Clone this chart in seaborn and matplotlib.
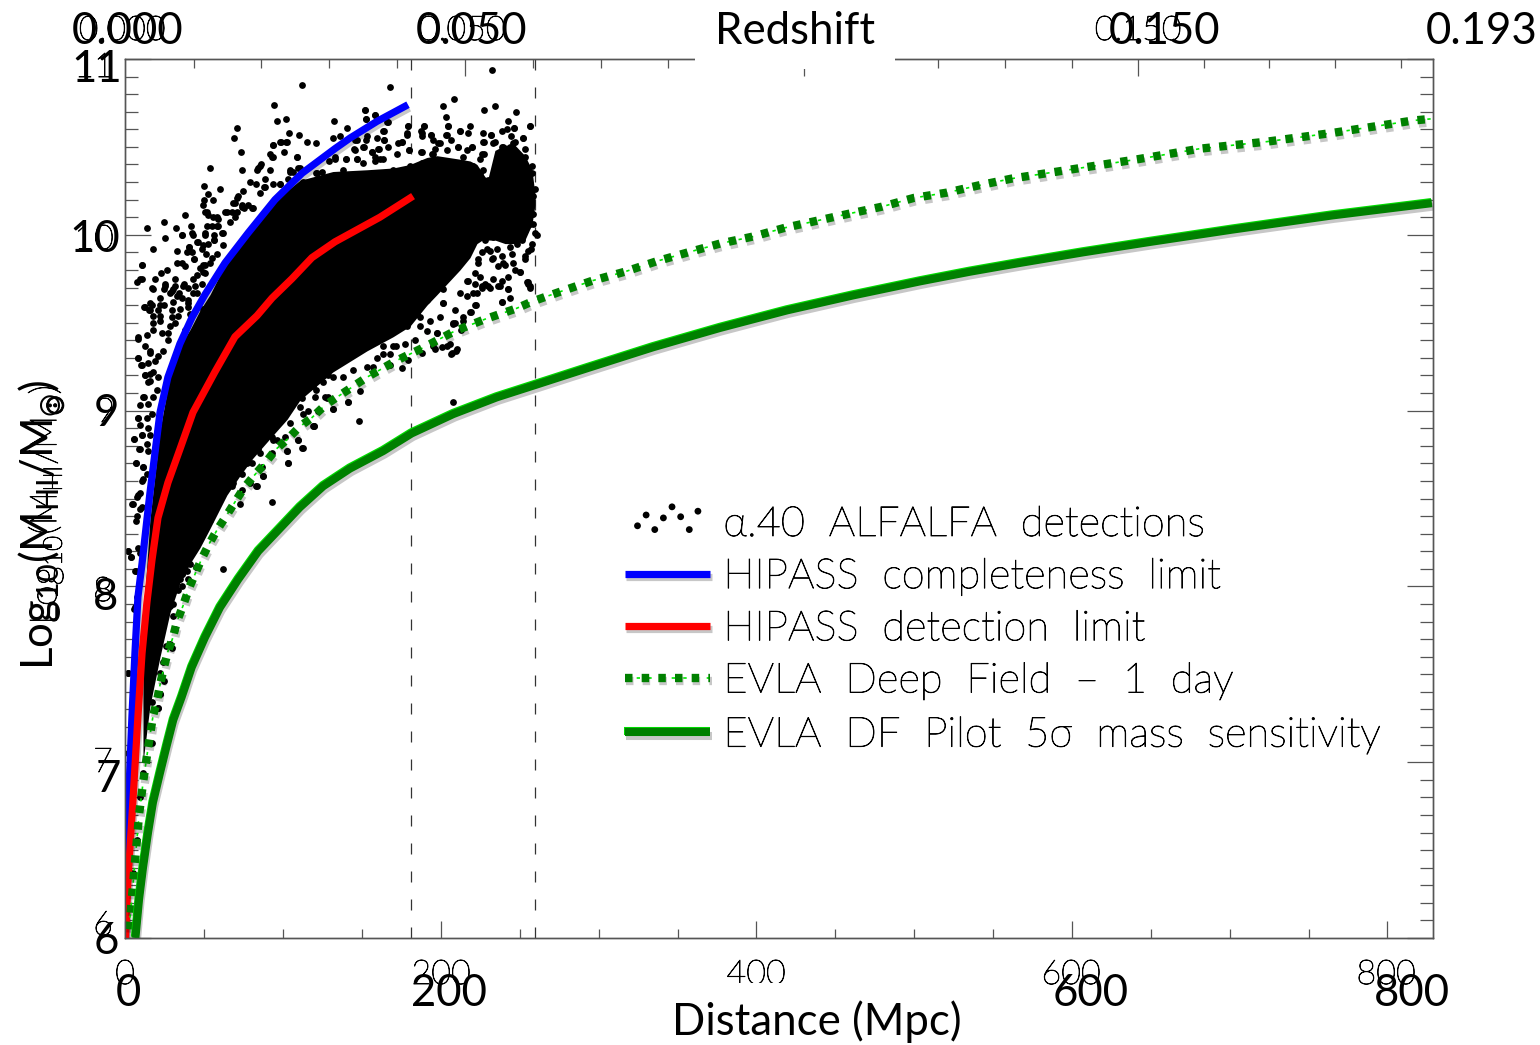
import matplotlib
matplotlib.use('Agg')
import matplotlib.pyplot as plt
import matplotlib.patheffects as pe
from matplotlib.legend_handler import HandlerTuple
from matplotlib.patches import Rectangle
import seaborn as sns
import pandas as pd

# Curvas de sensibilidade (Distancia em Mpc, log10 da massa)
blue_dist = [0.0, 0.3, 1.6, 4.1, 6.0, 7.9, 10.5, 13.6, 15.5, 18.7, 21.9, 26.9, 34.5, 42.2, 50.4, 63.1, 77.7, 94.8, 111.9, 132.8, 142.3, 159.4, 179.1]
blue_mass = [6.0, 6.33, 6.71, 7.26, 7.62, 7.94, 8.13, 8.38, 8.53, 8.76, 8.99, 9.19, 9.38, 9.53, 9.66, 9.84, 10.01, 10.20, 10.35, 10.49, 10.55, 10.645, 10.74]

red_dist = [0.0, 1.6, 4.8, 7.9, 10.5, 13.6, 16.8, 20.6, 26.9, 34.5, 42.8, 56.7, 69.4, 83.4, 92.9, 105.5, 118.2, 132.8, 161.3, 182.3]
red_mass = [6.0, 6.33, 6.79, 7.26, 7.62, 7.91, 8.15, 8.39, 8.59, 8.78, 8.99, 9.22, 9.42, 9.54, 9.64, 9.75, 9.87, 9.96, 10.10, 10.22]

deep_dist = [2.2, 4.1, 6.0, 8.6, 11.1, 14.3, 17.4, 20.0, 21.9, 24.4, 26.9, 30.1, 32.6, 36.5, 40.3, 44.1, 48.5, 52.9, 58.0, 63.1, 69.4, 75.1, 81.5, 88.4, 95.4, 103.0, 110.6, 118.2, 126.5, 134.7, 153.1, 170.8, 189.2, 208.2, 227.9, 247.5, 257.7, 276.7, 296.4, 316.6, 336.9, 356.6, 376.9, 397.8, 418.1, 438.4, 458.7, 479.6, 499.9, 520.8, 540.4, 562.0, 641.8, 681.2, 723.7, 765.5, 816.2, 828.2]
deep_mass = [6.05, 6.23, 6.43, 6.70, 6.88, 7.08, 7.26, 7.35, 7.44, 7.54, 7.63, 7.71, 7.80, 7.89, 7.99, 8.07, 8.16, 8.24, 8.32, 8.39, 8.48, 8.56, 8.63, 8.70, 8.78, 8.84, 8.91, 8.96, 9.03, 9.08, 9.19, 9.28, 9.36, 9.45, 9.52, 9.58, 9.62, 9.68, 9.74, 9.79, 9.85, 9.90, 9.95, 9.99, 10.04, 10.08, 10.12, 10.16, 10.21, 10.24, 10.28, 10.32, 10.43, 10.49, 10.53, 10.58, 10.65, 10.66]

pilot_dist = [6.3, 8.6, 11.1, 14.3, 17.4, 21.9, 26.3, 30.3, 35.6, 42.0, 50.4, 59.9, 71.5, 84.2, 99.0, 110.6, 125.4, 142.3, 163.4, 181.4, 207.8, 235.3, 259.6, 292.4, 334.4, 376.9, 419.4, 461.2, 503.7, 535.4, 567.1, 607.0, 650.0, 702.1, 765.0, 828.2]
pilot_mass = [6.0, 6.22, 6.40, 6.60, 6.77, 6.94, 7.10, 7.24, 7.37, 7.54, 7.71, 7.88, 8.04, 8.20, 8.34, 8.45, 8.57, 8.67, 8.77, 8.87, 8.98, 9.075, 9.145, 9.24, 9.36, 9.47, 9.57, 9.655, 9.735, 9.79, 9.84, 9.90, 9.96, 10.03, 10.11, 10.18]

# Miolo saturado da nuvem de deteccoes, onde nao da para ler pontos individuais
core_dist = [11.1, 15.5, 21.9, 28.2, 34.5, 40.9, 47.2, 53.6, 64.3, 72.6, 80.8, 93.5, 102.4, 110.6, 131.5, 153.1, 169.6, 180.3, 191.1, 197.5, 212.0, 218.4, 222.8, 227.9, 229.8, 234.2, 240.6, 246.9, 253.2, 257.7, 259.6]
core_low = [7.0, 7.32, 7.60, 7.85, 8.02, 8.13, 8.22, 8.33, 8.52, 8.63, 8.73, 8.86, 8.95, 9.06, 9.22, 9.34, 9.42, 9.48, 9.60, 9.66, 9.80, 9.87, 9.95, 9.98, 9.97, 9.97, 9.95, 9.95, 9.97, 10.06, 10.17]
core_high = [7.81, 8.38, 8.89, 9.20, 9.37, 9.46, 9.57, 9.66, 9.85, 9.97, 10.06, 10.17, 10.25, 10.31, 10.36, 10.37, 10.38, 10.40, 10.44, 10.45, 10.43, 10.42, 10.40, 10.33, 10.32, 10.48, 10.51, 10.51, 10.45, 10.37, 10.23]

# Deteccoes individuais
alfalfa = [
    (111.7, 10.85), (167.9, 10.84), (232.1, 10.94), (93.9, 10.74), (208.3, 10.77), (201.1, 10.73), (227.5, 10.71), (234.5, 10.73),
    (247.6, 10.70), (152.0, 10.71), (70.7, 10.61), (68.6, 10.55), (96.3, 10.65), (101.8, 10.66), (132.2, 10.65), (140.6, 10.61),
    (152.3, 10.66), (158.4, 10.68), (165.8, 10.64), (178.9, 10.62), (189.5, 10.62), (202.9, 10.67), (204.7, 10.62), (218.4, 10.62),
    (212.1, 10.59), (217.4, 10.58), (242.7, 10.65), (246.3, 10.61), (238.5, 10.59), (256.2, 10.62), (226.8, 10.58), (231.7, 10.57),
    (103.9, 10.58), (110.2, 10.57), (98.4, 10.53), (102.2, 10.53), (93.7, 10.51), (115.1, 10.53), (120.6, 10.52), (131.8, 10.55),
    (136.0, 10.56), (163.7, 10.59), (152.5, 10.54), (145.5, 10.54), (163.7, 10.54), (178.3, 10.57), (187.7, 10.58), (193.7, 10.57),
    (203.6, 10.57), (73.4, 10.47), (91.6, 10.46), (100.5, 10.47), (108.5, 10.44), (151.0, 10.50), (160.9, 10.49), (166.6, 10.50),
    (175.1, 10.53), (179.9, 10.48), (171.9, 10.46), (187.8, 10.47), (226.8, 10.53), (211.0, 10.50), (219.5, 10.50), (227.5, 10.46),
    (251.8, 10.55), (199.4, 10.52), (92.7, 10.44), (129.2, 10.42), (132.8, 10.43), (139.8, 10.43), (145.3, 10.48), (156.1, 10.47),
    (158.2, 10.42), (146.6, 10.43), (53.4, 10.38), (85.3, 10.39), (83.2, 10.37), (74.1, 10.37), (91.6, 10.37), (104.3, 10.36),
    (110.6, 10.38), (120.8, 10.35), (78.9, 10.30), (50.0, 10.28), (59.9, 10.26), (74.7, 10.25), (52.1, 10.23), (50.0, 10.20),
    (55.3, 10.20), (70.5, 10.21), (68.4, 10.18), (88.5, 10.27), (98.0, 10.29), (112.7, 10.30), (121.2, 10.29), (85.3, 10.24),
    (80.0, 10.15), (73.7, 10.16), (49.4, 10.17), (37.7, 10.11), (24.4, 10.07), (13.6, 10.04), (31.8, 10.04), (41.7, 10.05),
    (51.5, 10.13), (57.8, 10.10), (64.2, 10.13), (69.4, 10.10), (66.3, 10.07), (51.5, 10.05), (57.8, 10.05), (42.0, 10.01),
    (35.8, 10.00), (25.3, 9.98), (62.0, 10.01), (50.4, 10.00), (45.1, 9.96), (56.1, 9.97), (17.7, 9.92), (32.7, 9.91),
    (40.1, 9.93), (48.3, 9.92), (10.3, 9.83), (26.1, 9.80), (43.4, 9.86), (32.5, 9.84), (37.7, 9.82), (50.4, 9.83),
    (9.2, 9.75), (7.5, 9.73), (18.7, 9.75), (22.5, 9.78), (31.4, 9.75), (43.0, 9.75), (49.4, 9.79), (36.7, 9.71),
    (17.7, 9.69), (25.1, 9.71), (30.3, 9.69), (34.1, 9.67), (43.0, 9.67), (16.6, 9.60), (12.4, 9.59), (21.9, 9.60),
    (30.3, 9.62), (39.9, 9.61), (49.4, 9.58), (15.6, 9.57), (21.9, 9.51), (31.4, 9.50), (17.7, 9.46), (8.2, 9.42),
    (27.2, 9.44), (37.7, 9.46), (260.9, 10.00), (256.9, 9.92), (255.4, 9.72), (256.4, 9.70), (250.0, 9.79), (242.7, 9.69),
    (243.8, 9.64), (238.5, 9.62), (231.1, 9.70), (225.8, 9.70), (233.2, 9.75), (239.5, 9.84), (245.9, 9.84), (233.2, 9.87),
    (253.3, 9.88), (229.0, 9.92), (222.6, 9.67), (221.6, 9.60), (218.4, 9.56), (214.2, 9.51), (208.9, 9.50), (212.0, 9.67),
    (201.5, 9.61), (197.3, 9.44), (207.8, 9.05), (147.8, 8.94), (92.8, 8.48), (61.8, 8.10), (175.0, 9.24), (141.2, 9.05),
    (119.0, 8.91), (112.0, 8.79), (103.2, 8.70), (102.1, 8.77), (87.3, 8.63), (82.7, 8.57), (206.7, 9.33), (209.9, 9.35),
    (203.6, 9.37), (171.8, 9.37), (167.6, 9.32), (131.7, 9.01), (128.5, 9.08), (109.5, 8.83), (95.8, 8.83), (72.5, 8.47),
    (66.2, 8.44), (53.5, 8.38), (45.0, 8.11), (35.6, 8.07), (30.3, 7.83), (26.0, 7.66), (21.8, 7.51), (38.7, 8.09),
    (8.1, 9.30), (10.2, 9.26), (15.5, 9.33), (12.3, 9.20), (11.3, 9.08), (8.1, 8.96), (10.2, 8.86), (5.6, 8.84),
    (8.7, 8.78), (6.6, 8.70), (11.3, 8.68), (10.8, 8.61), (8.1, 8.52), (4.5, 8.47), (9.1, 8.44), (6.6, 8.37),
    (1.5, 8.20), (3.2, 8.17), (6.0, 8.09), (6.0, 7.88), (1.3, 7.51), (15.5, 9.21), (14.4, 9.16), (22.0, 7.39),
    (20.9, 7.31), (16.6, 7.11), (11.3, 6.94), (9.1, 6.80), (7.1, 6.56), (5.0, 6.37), (1.8, 7.05), (233.2, 10.52),
    (239.5, 10.50), (245.9, 10.52), (253.3, 10.44), (257.5, 10.35), (258.5, 10.22), (257.5, 10.12), (254.3, 10.05), (251.1, 9.97),
    (258.5, 10.06), (243.8, 9.93), (235.3, 9.92), (226.9, 10.29), (224.7, 10.35), (230.0, 10.22), (224.7, 10.12), (226.8, 10.01),
    (138.1, 10.37), (150.8, 10.41), (161.3, 10.43), (169.8, 10.37), (180.4, 10.39), (187.8, 10.41), (195.2, 10.46), (203.6, 10.48),
    (214.2, 10.44), (220.5, 10.39), (191.0, 9.63), (201.5, 9.69), (216.3, 9.74), (223.7, 9.86), (186.7, 9.53), (178.3, 9.50),
    (131.7, 9.19), (121.1, 9.12), (110.6, 9.02), (104.2, 8.93), (93.7, 8.83), (85.2, 8.76), (76.8, 8.70), (68.3, 8.59),
    (59.9, 8.51), (51.4, 8.40), (45.0, 8.28), (40.8, 8.19), (34.5, 8.04), (28.2, 7.89),
    # franja esquerda, mais densa
    (82.5, 10.29), (84.2, 10.38), (85.9, 10.40), (88.4, 10.32), (88.0, 10.27), (93.7, 10.29), (98.0, 10.29), (103.2, 10.32),
    (104.3, 10.37), (106.4, 10.36), (93.7, 10.51), (98.2, 10.53), (102.0, 10.53), (108.7, 10.44), (93.3, 10.44), (71.1, 10.22),
    (69.4, 10.18), (74.1, 10.17), (77.9, 10.17), (80.6, 10.15), (75.3, 10.15), (50.4, 10.13), (52.5, 10.11), (55.7, 10.10),
    (58.4, 10.09), (63.1, 10.13), (67.3, 10.13), (70.5, 10.13), (55.0, 10.05), (58.9, 10.05), (36.0, 10.00), (42.8, 10.00),
    (50.6, 10.01), (56.3, 10.00), (61.0, 10.01), (40.3, 9.93), (39.2, 9.90), (42.0, 9.90), (46.2, 9.96), (49.4, 9.94),
    (52.5, 9.95), (56.3, 9.97), (62.0, 9.94), (51.0, 9.89), (10.7, 9.83), (35.6, 9.84), (43.7, 9.86), (49.4, 9.83),
    (47.2, 9.81), (54.6, 9.87), (57.8, 9.89), (53.6, 9.84), (10.3, 9.75), (45.1, 9.77), (50.4, 9.78), (25.1, 9.72),
    (24.4, 9.69), (17.0, 9.70), (31.4, 9.71), (37.3, 9.72), (39.8, 9.70), (44.1, 9.71), (29.3, 9.68), (32.5, 9.65),
    (28.2, 9.67), (35.6, 9.64), (48.3, 9.72), (22.1, 9.64), (24.6, 9.60), (39.8, 9.63), (45.1, 9.67), (15.5, 9.61),
    (11.7, 9.59), (14.9, 9.57), (20.8, 9.57), (29.3, 9.57), (34.6, 9.58), (39.8, 9.59), (40.9, 9.55), (33.5, 9.54),
    (21.9, 9.54), (17.7, 9.54), (29.3, 9.53), (109.6, 10.38), (121.2, 10.35), (124.4, 10.36), (128.6, 10.32), (122.3, 10.29),
    (114.9, 10.25), (126.5, 10.27), (130.7, 10.29), (8.2, 9.41), (12.4, 9.37), (15.5, 9.34), (20.8, 9.31), (24.0, 9.34),
    (27.2, 9.40), (23.0, 9.44), (28.2, 9.48), (17.7, 9.50), (13.4, 9.43), (8.2, 9.30), (9.8, 9.26), (14.5, 9.27),
    (18.7, 9.28), (12.4, 9.20), (15.5, 9.17), (20.8, 9.19), (17.7, 9.22), (12.0, 9.08), (9.2, 9.03), (14.5, 9.04),
    (17.7, 9.08), (19.8, 9.12), (8.2, 8.96), (9.2, 8.92), (13.4, 8.96), (14.5, 8.90), (16.6, 8.98), (5.4, 8.84),
    (10.3, 8.86), (13.4, 8.81), (15.5, 8.86), (9.2, 8.78), (14.5, 8.77), (6.7, 8.70), (11.3, 8.68), (10.3, 8.60),
    (13.4, 8.64), (9.2, 8.53), (7.1, 8.51), (4.4, 8.47), (10.3, 8.45), (7.1, 8.40),
    # franja de baixo, junto da linha pontilhada
    (119.7, 8.91), (112.3, 8.79), (102.8, 8.70), (102.6, 8.77), (87.4, 8.63), (83.2, 8.57), (78.9, 8.59), (73.7, 8.55),
    (67.3, 8.57), (62.0, 8.59), (86.3, 8.68), (92.7, 8.76), (84.2, 8.78), (109.6, 8.83), (101.1, 8.85), (92.7, 8.85),
    (115.9, 9.00), (111.7, 9.07), (120.1, 9.08), (128.6, 9.20), (127.5, 9.07), (83.2, 8.93), (80.0, 8.70), (73.7, 8.64),
    (119.5, 8.91), (131.7, 9.01), (141.2, 9.05), (148.6, 9.11), (112.7, 8.98), (122.2, 9.00), (126.4, 9.08), (179.3, 9.29),
    (167.6, 9.26), (188.1, 9.33), (206.3, 9.32), (209.5, 9.34), (205.7, 9.38), (200.4, 9.36), (195.1, 9.37), (196.2, 9.35),
    (163.4, 9.32), (159.2, 9.30), (157.1, 9.25), (163.4, 9.37), (169.8, 9.37), (177.2, 9.38), (183.5, 9.40), (190.9, 9.45),
    (197.2, 9.44), (212.7, 9.46), (207.8, 9.49), (218.8, 9.56), (222.0, 9.60), (238.4, 9.62), (242.7, 9.69), (256.4, 9.71),
    (254.3, 9.73), (237.4, 9.71), (230.0, 9.71), (225.8, 9.71), (220.5, 9.67), (214.1, 9.53), (208.9, 9.57), (201.5, 9.61),
    (216.3, 9.65), (207.8, 9.50), (199.3, 9.53), (193.0, 9.51), (186.7, 9.48), (178.2, 9.48), (172.9, 9.51), (184.6, 9.55),
    (174.0, 9.55), (138.0, 9.19), (125.4, 9.16), (119.0, 9.14), (144.4, 9.23), (152.9, 9.25),
    # topo da nuvem e bolha da direita
    (151.8, 10.71), (152.2, 10.66), (158.2, 10.68), (166.2, 10.64), (163.4, 10.59), (152.9, 10.56), (146.5, 10.54), (159.2, 10.55),
    (164.1, 10.54), (145.1, 10.49), (150.8, 10.50), (156.0, 10.47), (160.3, 10.49), (139.8, 10.43), (146.5, 10.43), (132.8, 10.44),
    (158.2, 10.44), (163.4, 10.43), (172.9, 10.52), (175.1, 10.53), (179.7, 10.48), (178.9, 10.62), (178.2, 10.58), (187.3, 10.59),
    (188.2, 10.56), (189.4, 10.62), (187.3, 10.47), (193.4, 10.57), (195.1, 10.54), (198.3, 10.52), (203.2, 10.57), (204.6, 10.62),
    (206.3, 10.54), (212.0, 10.59), (211.0, 10.50), (196.2, 10.49), (194.1, 10.46), (219.4, 10.50), (216.3, 10.48), (231.5, 10.57),
    (227.5, 10.53), (225.8, 10.46), (224.7, 10.43), (241.6, 10.60), (246.3, 10.61), (256.4, 10.62), (244.2, 10.56), (252.2, 10.55),
    (246.9, 10.53), (253.2, 10.49), (234.2, 10.53), (238.5, 10.50), (243.7, 10.50), (257.5, 10.39), (259.6, 10.26), (258.5, 10.12),
    (259.6, 10.01), (256.4, 10.06), (253.2, 10.03), (257.5, 9.95), (255.4, 9.91), (253.2, 9.86), (250.1, 9.79), (255.4, 9.73),
    (246.9, 9.80), (242.7, 9.76), (238.5, 9.74), (236.3, 9.71), (232.1, 9.86), (236.3, 9.82), (240.6, 9.83), (244.8, 9.89),
    (238.5, 9.88), (231.0, 9.91), (233.2, 9.99), (227.9, 9.97), (240.6, 9.99), (248.0, 9.95), (225.8, 9.90), (223.7, 9.84),
    (224.7, 9.76), (221.5, 9.78), (217.3, 9.74), (227.9, 9.72), (221.5, 9.72), (225.8, 10.29), (223.7, 10.35), (226.8, 10.37),
    (230.0, 10.31),
    # cauda de baixo
    (1.4, 8.20), (3.3, 8.17), (8.2, 8.22), (6.5, 8.09), (9.2, 8.19), (7.1, 7.94), (5.4, 7.87), (1.8, 7.51),
    (35.6, 8.07), (39.8, 8.04), (45.1, 8.11), (33.5, 7.98), (36.0, 8.00), (30.3, 7.90), (31.4, 7.76), (28.2, 7.67),
    (29.3, 7.65), (24.0, 7.57), (24.6, 7.46), (21.9, 7.39), (20.4, 7.31), (16.6, 7.34), (14.5, 7.45), (43.0, 8.20),
    (46.2, 8.25), (47.2, 8.32), (40.9, 8.13),
]

survey_limits = [181.3, 259.7]

bottom_major = [0, 200, 400, 600, 800]
bottom_minor = [50, 100, 150, 250, 300, 350, 450, 500, 550, 650, 700, 750]
# Redshift z = 0.05, 0.10, 0.15 e os intermediarios, ja em Mpc
top_major = [215.2, 430.0, 641.9]
top_minor = [43.4, 85.9, 129.0, 172.0, 258.3, 301.4, 343.9, 387.0, 472.7, 515.2, 557.7, 599.9, 684.0, 725.2, 767.0, 808.9]
y_major = [6, 7, 8, 9, 10, 11]
y_minor = [6 + i / 10 for i in range(51) if i % 10 != 0]

legend_labels = [r'$\alpha$.40  ALFALFA  detections', 'HIPASS  completeness  limit', 'HIPASS  detection  limit',
                 'EVLA  Deep  Field  \u2013  1  day', r'EVLA  DF  Pilot  5$\sigma$  mass  sensitivity']
legend_dot_offsets = [0.35, 0.72, 0.22, 0.62, 1.0, 0.66, 0.22, 0.85]

sns.set_theme(style='white')
big_font = ['Lato', 'DejaVu Sans']
thin_font = ['Lato', 'DejaVu Sans']
plt.rcParams['font.family'] = ['Lato', 'DejaVu Sans']
plt.rcParams['mathtext.default'] = 'regular'

W, H = 1540, 1045
fig = plt.figure(figsize=(W / 100, H / 100), dpi=100)
ax = fig.add_axes([125 / W, 1 - 938 / H, 1308 / W, 879 / H])

shadow = [pe.SimpleLineShadow(offset=(1, -2.5), alpha=0.22, shadow_color='black'), pe.Normal()]
pilot_fx = [pe.SimpleLineShadow(offset=(1, -2.5), alpha=0.22, shadow_color='black'),
            pe.SimpleLineShadow(offset=(-0.4, 0.8), alpha=1, shadow_color='#00dd00'), pe.Normal()]
thin_fx = [pe.withStroke(linewidth=0.6, foreground='black')]

ax.fill_between(core_dist, core_low, core_high, color='black', linewidth=0, zorder=2)

df = pd.DataFrame(alfalfa, columns=['dist', 'mass'])
sns.scatterplot(data=df, x='dist', y='mass', color='black', s=24, linewidth=0, ax=ax, zorder=2, legend=False)
dots = ax.collections[-1]

for lim in survey_limits:
    ax.axvline(lim, color='#333333', lw=0.9, ls=(0, (8.8, 13.6)), zorder=1)


def curve(x, y, **kw):
    sns.lineplot(x=x, y=y, ax=ax, errorbar=None, estimator=None, sort=False, legend=False, **kw)
    return ax.lines[-1]


blue = curve(blue_dist, blue_mass, color='#0000ff', linewidth=5.2, zorder=3, path_effects=shadow, solid_capstyle='butt')
red = curve(red_dist, red_mass, color='#ff0000', linewidth=5.2, zorder=4, path_effects=shadow, solid_capstyle='butt')
lime = curve(deep_dist, deep_mass, color='#00ee00', linewidth=1.2, linestyle=(0, (2, 5)), zorder=5)
deep = curve(deep_dist, deep_mass, color='#008000', linewidth=6.0, linestyle=(0, (0.9, 1.1)), zorder=6, path_effects=shadow)
pilot = curve(pilot_dist, pilot_mass, color='#008000', linewidth=5.8, zorder=6, path_effects=pilot_fx, solid_capstyle='butt')

x_max = 828.9
ax.set_xlim(-0.3, x_max)
ax.set_ylim(6, 11)
ax.set_xlabel('')
ax.set_ylabel('')
ax.set_xticks(bottom_major)
ax.set_xticks(bottom_minor, minor=True)
ax.set_yticks(y_major)
ax.set_yticks(y_minor, minor=True)
ax.set_xticklabels([])
ax.set_yticklabels([])

axis_grey = '#555555'
ax.tick_params(axis='x', which='major', direction='in', length=12.2, width=0.9, color=axis_grey, bottom=True)
ax.tick_params(axis='x', which='minor', direction='in', length=6.5, width=0.9, color=axis_grey, bottom=True)
ax.tick_params(axis='y', which='major', direction='in', length=18.7, width=0.9, color=axis_grey, left=True, right=True)
ax.tick_params(axis='y', which='minor', direction='in', length=9.4, width=0.9, color=axis_grey, left=True, right=True)

top = ax.twiny()
top.set_xlim(ax.get_xlim())
top.set_xticks(top_major)
top.set_xticks(top_minor, minor=True)
top.set_xticklabels([])
top.tick_params(axis='x', which='major', direction='in', length=12.2, width=0.9, color=axis_grey, top=True)
top.tick_params(axis='x', which='minor', direction='in', length=6.5, width=0.9, color=axis_grey, top=True)

for a in (ax, top):
    for s in a.spines.values():
        s.set_color(axis_grey)
        s.set_linewidth(1.0)

handles = [dots, blue, red, (lime, deep), pilot]
leg = ax.legend(handles, legend_labels, loc='upper left', bbox_to_anchor=(625 / W, 1 - 506 / H), bbox_transform=fig.transFigure,
                frameon=False, labelspacing=0.34, handlelength=2.05, handletextpad=0.31, borderpad=0, borderaxespad=0,
                scatterpoints=8, scatteryoffsets=legend_dot_offsets, handler_map={tuple: HandlerTuple(ndivide=1, pad=0)},
                prop={'family': 'Lato', 'weight': 'light', 'size': 30}, labelcolor='black')
for t in leg.get_texts():
    t.set_path_effects(thin_fx)


def px_text(x, y, s, kind='big', **kw):
    if kind == 'big':
        style = dict(family=big_font, fontsize=31.5, color='black', zorder=10)
    else:
        style = dict(family=thin_font, fontsize=24.5, color='black', fontweight='light', zorder=9, path_effects=thin_fx)
    style.update(kw)
    return fig.text(x / W, 1 - y / H, s, ha='center', va='center', **style)


# Caixas brancas por cima do eixo, como na figura original
fig.add_artist(Rectangle((695 / W, 1 - 69 / H), 200 / W, 69 / H, transform=fig.transFigure, color='white', zorder=8, lw=0))
fig.add_artist(Rectangle((660 / W, 0), 315 / W, 62 / H, transform=fig.transFigure, color='white', zorder=9.5, lw=0))

for x, y, s in [(122, 31, '0.000'), (462, 31, '0.050'), (1138, 31, '0.150')]:
    px_text(x, y, s, 'thin')
for x, y, s in [(103, 926, '6'), (103, 763, '7'), (103, 592, '8'), (105, 413, '9'), (94, 240, '10'), (94, 68, '11')]:
    px_text(x, y, s, 'thin')
for x, y, s in [(125, 975, '0'), (441, 975, '200'), (756, 975, '400'), (1071, 975, '600'), (1386, 975, '800')]:
    px_text(x, y, s, 'thin')

for x, y, s in [(128, 31, '0.000'), (472, 31, '0.050'), (1165, 31, '0.150'), (1482, 31, '0.193'), (795, 31, 'Redshift')]:
    px_text(x, y, s)
for x, y, s in [(97, 69, '11'), (95, 240, '10'), (106, 413, '9'), (106, 598, '8'), (108, 779, '7'), (106, 942, '6')]:
    px_text(x, y, s)
for x, y, s in [(128, 993, '0'), (449, 993, '200'), (1091, 993, '600'), (1412, 993, '800')]:
    px_text(x, y, s)
px_text(817, 1022, 'Distance (Mpc)')

ylab = r'Log$_{10}$(M$_{HI}$/M$_{\odot}$)'
px_text(40, 525, ylab, rotation=90)
px_text(46, 505, ylab, 'thin', rotation=90, fontsize=27)

fig.savefig('out.png', dpi=100)
